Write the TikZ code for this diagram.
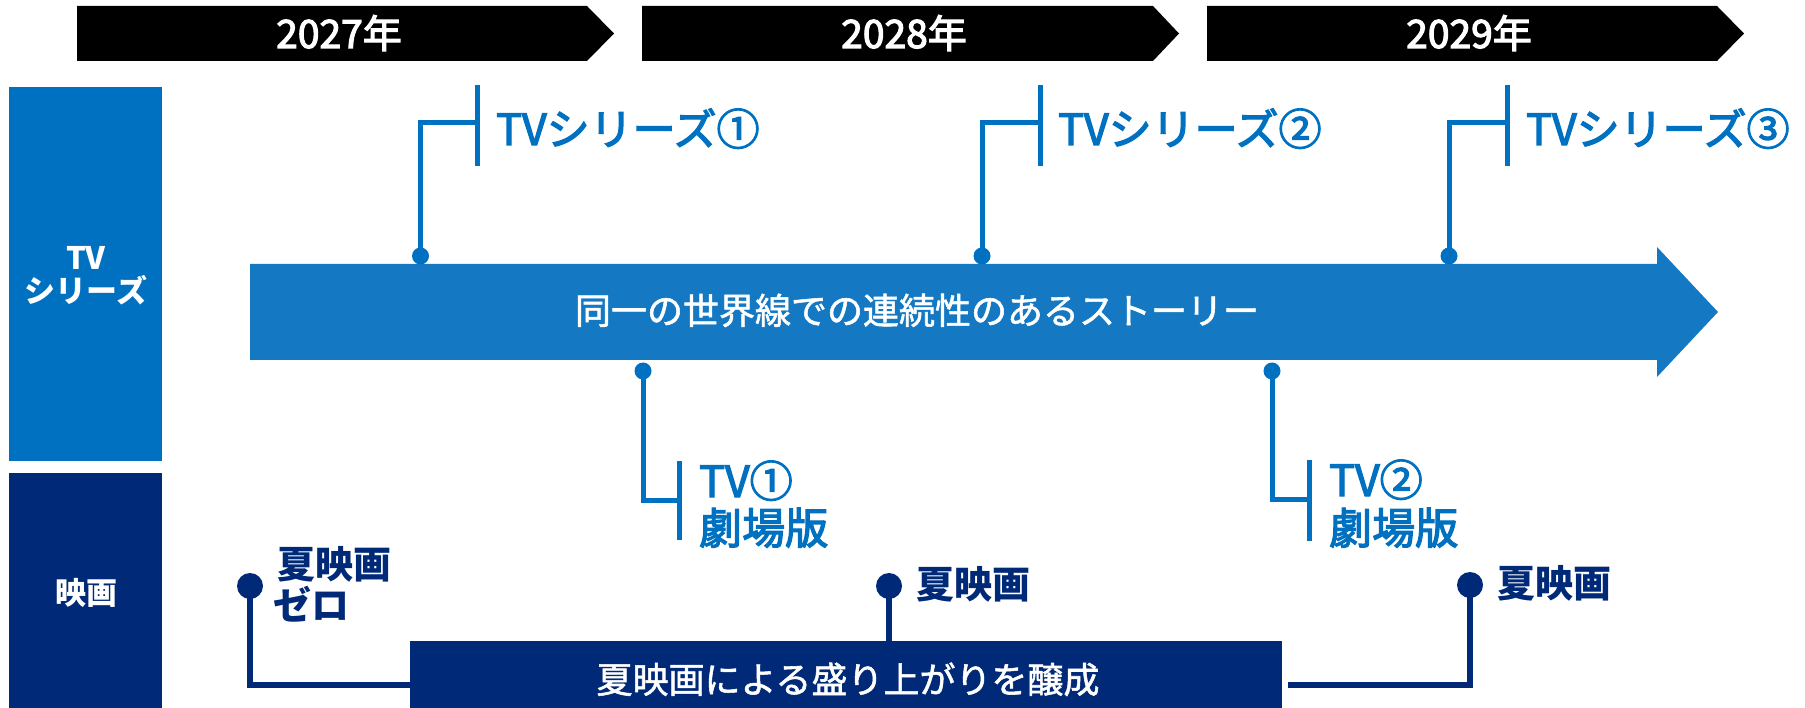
\documentclass[tikz,border=0pt]{standalone}
\usepackage{fontspec}
\setmainfont{Noto Sans CJK JP}
\newfontfamily\jpmed[FakeBold=1.5]{Noto Sans CJK JP}
\newfontfamily\jpsemi[FakeBold=3]{Noto Sans CJK JP}
\definecolor{tvblue}{RGB}{0,112,192}
\definecolor{arrowblue}{RGB}{20,121,194}
\definecolor{navy}{RGB}{0,41,119}
\tikzset{
  yeartext/.style={anchor=base, text=white, inner sep=0, font=\fontsize{39}{42}\selectfont\jpsemi},
  sidetext/.style={anchor=base, text=white, inner sep=0, font=\fontsize{31}{33}\selectfont\bfseries},
  bandtext/.style={anchor=base, text=white, inner sep=0, font=\fontsize{36}{40}\selectfont\jpmed},
  bluelabel/.style={anchor=base west, text=tvblue, inner sep=0, font=\fontsize{43}{47}\selectfont\jpsemi},
  navylabel/.style={anchor=base west, text=navy, inner sep=0, font=\fontsize{38}{42}\selectfont\bfseries},
  bdot/.style={circle, fill=tvblue, inner sep=0, minimum size=17},
  ndot/.style={circle, fill=navy, inner sep=0, minimum size=26},
  bline/.style={draw=tvblue, line width=5},
  nline/.style={draw=navy, line width=6},
}
\begin{document}
\begin{tikzpicture}[x=1pt,y=-1pt]
\useasboundingbox (0,0) rectangle (1805,708);
% year bands
\fill[black] (77,6) -- (587,6) -- (614,33.5) -- (587,61) -- (77,61) -- cycle;
\fill[black] (642,6) -- (1153,6) -- (1179,33.5) -- (1153,61) -- (642,61) -- cycle;
\fill[black] (1207,6) -- (1717,6) -- (1744,33.5) -- (1717,61) -- (1207,61) -- cycle;
\node[yeartext] (y1) at (339,48) {2027年};
\node[yeartext] (y2) at (904,48) {2028年};
\node[yeartext] (y3) at (1469,48) {2029年};
% side boxes
\fill[tvblue] (9,87) rectangle (162,461);
\node[sidetext] (tvA) at (86,270) {TV};
\node[sidetext] (tvB) at (86,303) {シリーズ};
\fill[navy] (9,473) rectangle (162,708);
\node[sidetext] (mv) at (86,604) {映画};
% main arrow
\fill[arrowblue] (250,264) -- (1657,264) -- (1657,247) -- (1718,312) -- (1657,377) -- (1657,360) -- (250,360) -- cycle;
\node[bandtext] (story) at (917,324) {同一の世界線での連続性のあるストーリー};
% movie box
\fill[navy] (410,641) rectangle (1282,708);
\node[bandtext] (movie) at (848,693) {夏映画による盛り上がりを醸成};
% TV series callouts
\node[bdot] (d1) at (420.5,256) {};
\coordinate (k1) at (477,123);
\draw[bline] (d1.center) |- (k1);
\draw[bline] (477,85) -- (477,166);
\node[bluelabel] (l1) at (496,145) {TVシリーズ①};
\node[bdot] (d2) at (982,256) {};
\coordinate (k2) at (1040,123);
\draw[bline] (d2.center) |- (k2);
\draw[bline] (1040,85) -- (1040,166);
\node[bluelabel] (l2) at (1058,145) {TVシリーズ②};
\node[bdot] (d3) at (1449,256) {};
\coordinate (k3) at (1507,123);
\draw[bline] (d3.center) |- (k3);
\draw[bline] (1507,85) -- (1507,166);
\node[bluelabel] (l3) at (1526,145) {TVシリーズ③};
% theatrical callouts
\node[bdot] (d4) at (643,371) {};
\coordinate (k4) at (679,500);
\draw[bline] (d4.center) |- (k4);
\draw[bline] (679,461) -- (679,540);
\node[bluelabel] (l4a) at (699,497) {TV①};
\node[bluelabel] (l4b) at (699,544) {劇場版};
\node[bdot] (d5) at (1272,371) {};
\coordinate (k5) at (1309,499);
\draw[bline] (d5.center) |- (k5);
\draw[bline] (1309,460) -- (1309,541);
\node[bluelabel] (l5a) at (1329,496) {TV②};
\node[bluelabel] (l5b) at (1329,544) {劇場版};
% movie callouts
\node[ndot] (m1) at (250,586) {};
\coordinate (mb1) at (410,685);
\draw[nline] (m1.center) |- (mb1);
\node[navylabel] (n1a) at (277,578) {夏映画};
\node[navylabel] (n1b) at (273,619) {ゼロ};
\node[ndot] (m2) at (889,586) {};
\coordinate (mb2) at (889,641);
\draw[nline] (m2.center) -- (mb2);
\node[navylabel] (n2) at (916,598) {夏映画};
\node[ndot] (m3) at (1470,585) {};
\coordinate (mb3) at (1288,685);
\draw[nline] (m3.center) |- (mb3);
\node[navylabel] (n3) at (1497,597) {夏映画};
\end{tikzpicture}
\end{document}
